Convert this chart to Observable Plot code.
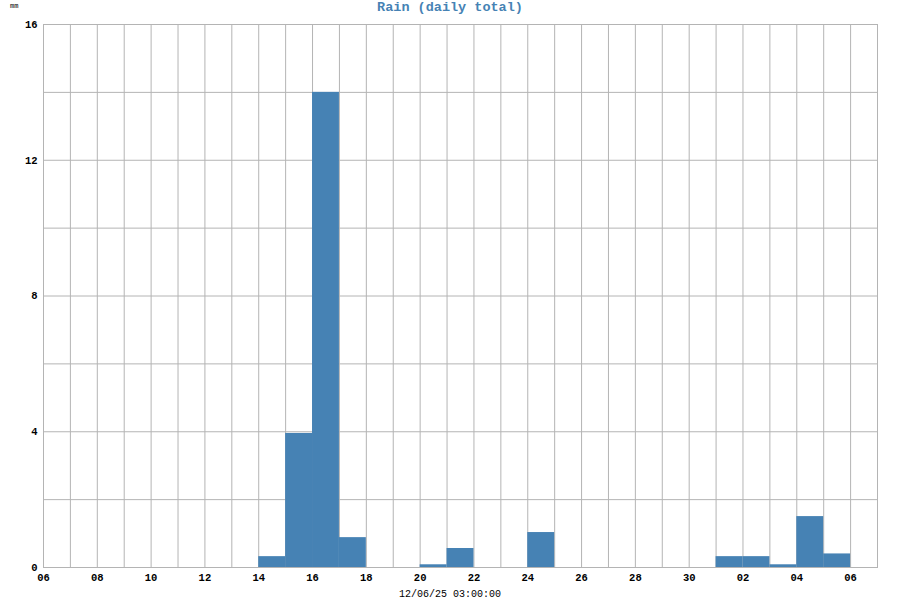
<!DOCTYPE html>
<html>
<head>
<meta charset="utf-8">
<script src="https://cdn.jsdelivr.net/npm/d3@7"></script>
<script src="https://cdn.jsdelivr.net/npm/@observablehq/plot@0.6"></script>
<style>
  html, body { margin: 0; padding: 0; background: #fff; }
  #wrap { position: relative; width: 900px; height: 600px; overflow: hidden; }
  .lbl { position: absolute; font-family: "Liberation Mono", "DejaVu Sans Mono", monospace; white-space: nowrap; }
  #title { left: 0; width: 900px; top: 0px; text-align: center; color: #4682b4; font-weight: bold; font-size: 13.5px; }
  #unit { left: 10px; top: 2px; font-size: 7px; color: #000; }
  #caption { left: 0; width: 900px; top: 589px; text-align: center; font-size: 10px; color: #000; }
</style>
</head>
<body>
<div id="wrap">
  <div id="title" class="lbl">Rain (daily total)</div>
  <div id="unit" class="lbl">mm</div>
  <div id="caption" class="lbl">12/06/25 03:00:00</div>
</div>
<script>
// Day-of-month label of each daily slot (as labelled on the chart)
const dayLabels = [
  "06","07","08","09","10","11","12","13","14","15","16","17","18","19","20",
  "21","22","23","24","25","26","27","28","29","30",
  "01","02","03","04","05","06"
];
// Daily rain totals in mm, one per slot
const rain = [
  0, 0, 0, 0, 0, 0, 0, 0, 0.32, 3.95, 14.0, 0.88, 0, 0, 0.08,
  0.56, 0, 0, 1.03, 0, 0, 0, 0, 0, 0,
  0.32, 0.32, 0.08, 1.5, 0.4, 0
];
// Labels shown on the x axis
const xTickLabels = ["06","08","10","12","14","16","18","20","22","24","26","28","30","02","04","06"];
const yTicks = [0, 4, 8, 12, 16];
const yGrid = [0, 2, 4, 6, 8, 10, 12, 14, 16];

const n = dayLabels.length;
const table = rain.map((v, i) => ({ x1: i, x2: i + 1, v }));
const slots = d3.range(n + 1);
// tick positions: first matching slot for each label, searching forward
let from = 0;
const tickIdx = xTickLabels.map(l => {
  let k = dayLabels.indexOf(l, from);
  from = k + 1;
  return k;
});

const chart = Plot.plot({
  width: 900,
  height: 600,
  marginTop: 24,
  marginBottom: 33,
  marginLeft: 43,
  marginRight: 23,
  style: { fontFamily: "'Liberation Mono', 'DejaVu Sans Mono', monospace", fontSize: "10.5px", fontWeight: "bold", background: "#fff" },
  x: { type: "linear", domain: [0, n] },
  y: { domain: [0, 16] },
  marks: [
    Plot.ruleX(slots, { x: d => d, stroke: "#b4b4b4", strokeWidth: 1 }),
    Plot.ruleY(yGrid, { y: d => d, stroke: "#b4b4b4", strokeWidth: 1 }),
    Plot.rectY(table.filter(d => d.v > 0), { x1: "x1", x2: "x2", y: "v", fill: "#4682b4", inset: 0 }),
    Plot.axisX({ ticks: tickIdx, tickFormat: i => dayLabels[i], tickSize: 0, tickPadding: 6, fill: "#000", label: null }),
    Plot.axisY({ ticks: yTicks, tickFormat: d => String(d), tickSize: 0, tickPadding: 6, fill: "#000", label: null }),
    Plot.frame({ stroke: "#b4b4b4", strokeWidth: 1 })
  ]
});
chart.style.position = "absolute";
chart.style.left = "0px";
chart.style.top = "0px";
const wrap = document.getElementById("wrap");
wrap.insertBefore(chart, wrap.firstChild);
</script>
</body>
</html>
